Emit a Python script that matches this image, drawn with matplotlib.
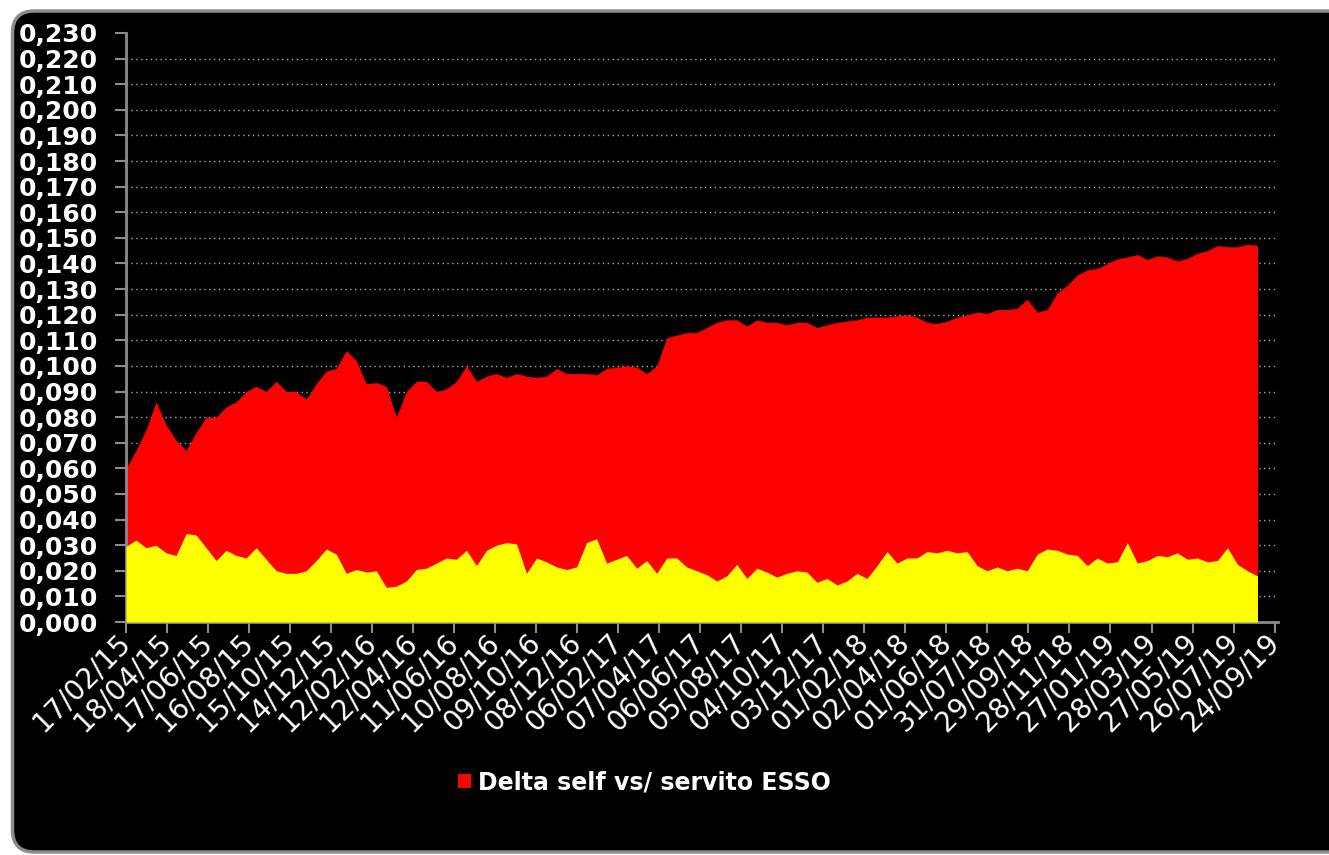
import matplotlib
matplotlib.use('Agg')
import matplotlib.pyplot as plt
import matplotlib.dates as mdates
from matplotlib.patches import FancyBboxPatch, Patch
import numpy as np
import pandas as pd

# values, roughly every two weeks
delta_esso = [0.060, 0.067, 0.075, 0.086, 0.077, 0.071, 0.067, 0.074, 0.080, 0.080,
              0.084, 0.086, 0.090, 0.092, 0.090, 0.094, 0.090, 0.090, 0.087, 0.093,
              0.098, 0.099, 0.106, 0.102, 0.093, 0.0935, 0.092, 0.080, 0.090, 0.094,
              0.094, 0.090, 0.091, 0.094, 0.100, 0.094, 0.096, 0.097, 0.0955, 0.097,
              0.096, 0.0955, 0.096, 0.099, 0.097, 0.097, 0.097, 0.0965, 0.099, 0.0995,
              0.100, 0.0995, 0.097, 0.100, 0.111, 0.112, 0.113, 0.113, 0.115, 0.117,
              0.118, 0.118, 0.1155, 0.118, 0.117, 0.117, 0.116, 0.117, 0.117, 0.115,
              0.116, 0.117, 0.1175, 0.118, 0.119, 0.119, 0.119, 0.1195, 0.120, 0.119,
              0.117, 0.1165, 0.1175, 0.119, 0.120, 0.121, 0.1205, 0.122, 0.122, 0.1225,
              0.126, 0.121, 0.122, 0.1285, 0.1315, 0.1355, 0.1375, 0.138, 0.140, 0.1418,
              0.1425, 0.1435, 0.1415, 0.143, 0.1425, 0.141, 0.142, 0.144, 0.145, 0.147,
              0.1465, 0.1465, 0.1475, 0.147]
lower_series = [0.0295, 0.032, 0.029, 0.030, 0.027, 0.026, 0.0345, 0.034, 0.029, 0.024,
                0.028, 0.026, 0.025, 0.029, 0.0245, 0.020, 0.019, 0.019, 0.020, 0.024,
                0.0285, 0.0265, 0.019, 0.0205, 0.0195, 0.020, 0.0135, 0.014, 0.016, 0.0205,
                0.021, 0.023, 0.025, 0.0245, 0.028, 0.022, 0.028, 0.030, 0.031, 0.0305,
                0.019, 0.025, 0.0235, 0.0215, 0.0205, 0.0215, 0.031, 0.0325, 0.023, 0.0245,
                0.026, 0.021, 0.024, 0.019, 0.025, 0.025, 0.0215, 0.020, 0.0185, 0.016,
                0.018, 0.0225, 0.017, 0.021, 0.0195, 0.0175, 0.019, 0.020, 0.0195, 0.0155,
                0.017, 0.0145, 0.016, 0.019, 0.017, 0.022, 0.0275, 0.023, 0.025, 0.025,
                0.0275, 0.027, 0.028, 0.027, 0.0275, 0.022, 0.020, 0.0215, 0.020, 0.021,
                0.020, 0.0265, 0.0285, 0.028, 0.0265, 0.026, 0.022, 0.025, 0.023, 0.0235,
                0.031, 0.023, 0.024, 0.026, 0.0255, 0.027, 0.0245, 0.025, 0.0235, 0.024,
                0.029, 0.0225, 0.020, 0.018]
dates = pd.date_range('2015-02-17', '2019-08-30', periods=len(delta_esso))
tick_dates = pd.date_range('2015-02-17', '2019-09-24', freq='60D')
y_ticks = np.arange(0, 0.2301, 0.01)
legend_label = 'Delta self vs/ servito ESSO'

W, H = 1329, 855
fig = plt.figure(figsize=(W / 100, H / 100), dpi=100)
fig.patch.set_facecolor('white')

# black rounded panel behind everything
panel = FancyBboxPatch((0.125, 0.03), 13.5, 8.41, boxstyle='round,pad=0,rounding_size=0.22',
                       transform=fig.dpi_scale_trans, facecolor='black',
                       edgecolor='#8c8c8c', linewidth=2.5, zorder=-10)
fig.patches.append(panel)

ax = fig.add_axes([126 / W, 1 - 622 / H, (1278 - 126) / W, (622 - 33) / H])
ax.set_zorder(1)
ax.set_facecolor('black')

for v in y_ticks[1:-1]:
    ax.axhline(v, color='#a8a8a8', linestyle=(0, (1, 2.5)), linewidth=1, zorder=0)

ax.fill_between(dates, 0, delta_esso, color='#ff0000', linewidth=0, zorder=2)
ax.fill_between(dates, 0, lower_series, color='#ffff00', linewidth=0, zorder=3)

ax.set_xlim(pd.Timestamp('2015-02-17'), pd.Timestamp('2015-02-17') + pd.Timedelta(days=1685))
ax.set_ylim(0, 0.23)

ax.set_yticks(y_ticks)
ax.set_yticklabels([f'{v:.3f}'.replace('.', ',') for v in y_ticks],
                   fontsize=18, fontweight='bold', color='white')
ax.set_xticks(tick_dates)
ax.xaxis.set_major_formatter(mdates.DateFormatter('%d/%m/%y'))
for lab in ax.get_xticklabels():
    lab.set_rotation(45)
    lab.set_ha('right')
    lab.set_va('center')
    lab.set_rotation_mode('anchor')
    lab.set_fontsize(20)
    lab.set_color('white')

ax.tick_params(axis='both', colors='#8c8c8c', length=8, width=1.5, direction='out')
ax.tick_params(axis='y', pad=12, labelcolor='white')
ax.tick_params(axis='x', pad=4, labelcolor='white')
for s in ['top', 'right']:
    ax.spines[s].set_visible(False)
for s in ['left', 'bottom']:
    ax.spines[s].set_color('#8c8c8c')
    ax.spines[s].set_linewidth(2)

leg = ax.legend(handles=[Patch(facecolor='#ff0000')], labels=[legend_label],
                loc='center', bbox_to_anchor=(644 / W, 1 - 782 / H), bbox_transform=fig.transFigure,
                frameon=False, prop={'size': 17, 'weight': 'bold'}, labelcolor='white',
                handlelength=0.55, handleheight=0.55, handletextpad=0.3)

fig.savefig('out.png', dpi=100, facecolor=fig.get_facecolor())
